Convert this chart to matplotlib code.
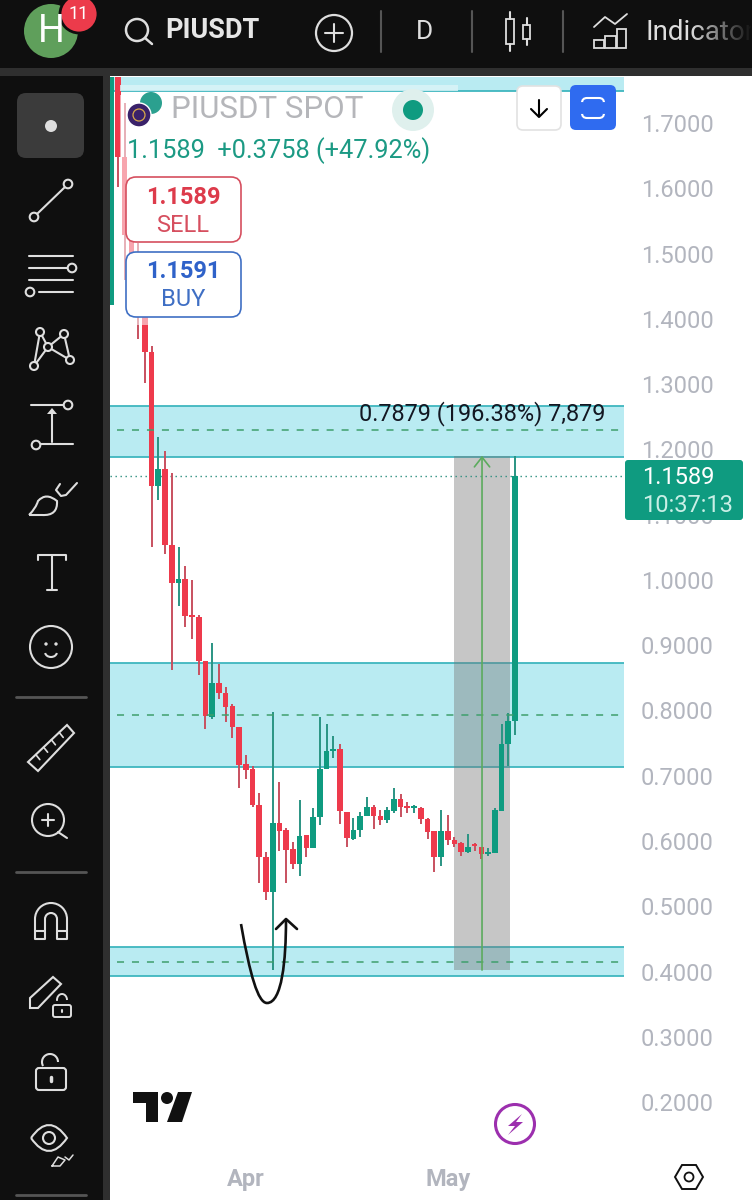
import numpy as np
import matplotlib
matplotlib.use('Agg')
import matplotlib.pyplot as plt
from matplotlib.patches import Arc, Circle, FancyBboxPatch, PathPatch, Polygon, Rectangle
from matplotlib.path import Path

plt.rcParams['font.family'] = ['Roboto', 'DejaVu Sans']

# daily candles, oldest first
opens = [1.421, 1.7705, 1.648, 1.528, 1.437, 1.413, 1.349, 1.144, 1.170, 1.054, 0.995,
         1.001, 0.945, 0.943, 0.876, 0.790, 0.842, 0.827, 0.807, 0.775, 0.718,
         0.710, 0.655, 0.576, 0.522, 0.628, 0.617, 0.588, 0.565, 0.609, 0.589,
         0.637, 0.710, 0.738, 0.741, 0.644, 0.603, 0.617, 0.638, 0.652, 0.638,
         0.632, 0.646, 0.664, 0.654, 0.651, 0.651, 0.634, 0.615, 0.576, 0.615,
         0.602, 0.597, 0.583, 0.594, 0.591, 0.580, 0.582, 0.646, 0.749, 0.784]
closes = [1.7705, 1.648, 1.528, 1.437, 1.413, 1.349, 1.144, 1.170, 1.054, 0.995, 1.001,
          0.945, 0.943, 0.876, 0.792, 0.842, 0.827, 0.805, 0.775, 0.717, 0.709,
          0.655, 0.576, 0.522, 0.628, 0.615, 0.586, 0.565, 0.608, 0.589, 0.637,
          0.710, 0.738, 0.741, 0.646, 0.605, 0.617, 0.638, 0.652, 0.638, 0.632,
          0.647, 0.664, 0.652, 0.651, 0.652, 0.634, 0.614, 0.576, 0.615, 0.602,
          0.595, 0.583, 0.591, 0.592, 0.580, 0.582, 0.647, 0.749, 0.784, 1.1589]
highs = [1.7705, 1.7705, 1.731, 1.528, 1.516, 1.413, 1.358, 1.219, 1.198, 1.164, 1.050,
         1.021, 1.000, 0.946, 0.876, 0.903, 0.871, 0.836, 0.810, 0.775, 0.732,
         0.715, 0.674, 0.583, 0.798, 0.690, 0.620, 0.599, 0.663, 0.609, 0.651,
         0.790, 0.779, 0.761, 0.749, 0.644, 0.635, 0.644, 0.667, 0.655, 0.647,
         0.652, 0.681, 0.672, 0.660, 0.655, 0.652, 0.635, 0.615, 0.647, 0.640,
         0.606, 0.599, 0.611, 0.597, 0.591, 0.589, 0.651, 0.779, 0.796, 1.190]
lows = [1.421, 1.602, 1.459, 1.429, 1.369, 1.302, 1.050, 1.122, 1.040, 0.862, 0.960,
        0.928, 0.910, 0.854, 0.772, 0.787, 0.818, 0.782, 0.758, 0.681, 0.695,
        0.652, 0.536, 0.510, 0.402, 0.585, 0.536, 0.557, 0.546, 0.576, 0.589,
        0.625, 0.710, 0.727, 0.626, 0.591, 0.602, 0.606, 0.638, 0.618, 0.625,
        0.628, 0.643, 0.637, 0.643, 0.643, 0.626, 0.603, 0.553, 0.562, 0.594,
        0.591, 0.577, 0.582, 0.585, 0.572, 0.577, 0.582, 0.646, 0.715, 0.762]

zones = [(1.749, 1.7705), (1.1884, 1.2665), (0.713, 0.873), (0.393, 0.438)]
zone_mids = [1.230, 0.793, 0.415]
measure_low = 0.4022
measure_high = 1.1901
last_price = 1.1589
price_ticks = [0.2, 0.3, 0.4, 0.5, 0.6, 0.7, 0.8, 0.9, 1.0, 1.1, 1.2, 1.3, 1.4, 1.5, 1.6, 1.7]
month_ticks = [20, 50]
month_labels = ['Apr', 'May']

RED = '#ee3a4c'
GREEN = '#0f9b80'
UP_WICK = '#2a9483'
DOWN_WICK = '#c8505f'
BAND = '#b9ebf2'
BAND_EDGE = '#3fb6bf'
DARK = '#0f0f0f'
STRIP = '#2f2f2f'
ICON = '#dedede'
GREY = '#b2b5be'

W, H = 752, 1200
fig = plt.figure(figsize=(W / 100, H / 100), dpi=100, facecolor='white')

# price pane: 65.27 px per 0.1, 6.73 px per day, newest candle at x=515
ax = fig.add_axes([110 / W, 1 - 1160 / H, (624 - 110) / W, (1160 - 76) / H], zorder=1)
idx = np.arange(len(opens))
o, c, hi, lo = map(np.array, (opens, closes, highs, lows))
up = c >= o
ax.set_xlim(60 - (515 - 110) / 6.73, 60 + (624 - 515) / 6.73)
ax.set_ylim(1.7 - (1160 - 123) / 652.7, 1.7 + (123 - 76) / 652.7)

for low, high in zones:
    ax.axhspan(low, high, color=BAND, lw=0, zorder=1)
    ax.axhline(low, color=BAND_EDGE, lw=1.3, zorder=1.5)
    if high < 1.7:
        ax.axhline(high, color=BAND_EDGE, lw=1.3, zorder=1.5)
for mid in zone_mids:
    ax.plot([idx[0] + 0.8, ax.get_xlim()[1]], [mid, mid], color='#3f9f6c', lw=1.1,
            ls=(0, (4.6, 5.2)), zorder=3.5)

ax.add_patch(Rectangle((50.94, measure_low), 8.32, measure_high - measure_low,
                       fc='#777777', alpha=0.42, ec='none', zorder=2))
ax.axhline(last_price, color='#2d8f80', lw=1, ls=(0, (1, 2.6)), zorder=2.5)

ax.vlines(idx[up], lo[up], hi[up], color=UP_WICK, lw=1.4, zorder=3)
ax.vlines(idx[~up], lo[~up], hi[~up], color=DOWN_WICK, lw=1.4, zorder=3)
body = np.maximum(np.abs(c - o), 0.003)
ax.bar(idx[up], body[up], bottom=np.minimum(o, c)[up], width=0.84, color=GREEN, lw=0, zorder=3.2)
ax.bar(idx[~up], body[~up], bottom=np.minimum(o, c)[~up], width=0.84, color=RED, lw=0, zorder=3.2)

ax.annotate('', xy=(55.1, measure_high), xytext=(55.1, measure_low), zorder=4,
            arrowprops=dict(arrowstyle='->,head_length=0.7,head_width=0.55', color='#5cab5e',
                            lw=1.2, shrinkA=0, shrinkB=0))
ax.text(55.1, 1.2545, '0.7879 (196.38%) 7,879', ha='center', va='center', fontsize=16.9,
        color='#131722', zorder=5)

ax.set_yticks(price_ticks)
ax.set_yticklabels(['%.4f' % p for p in price_ticks])
ax.set_xticks(month_ticks)
ax.set_xticklabels(month_labels, fontweight='bold')
ax.tick_params(axis='y', left=False, labelleft=False, right=False, labelright=True, length=0,
               pad=12, labelsize=17, labelcolor=GREY)
ax.tick_params(axis='x', length=0, pad=6, labelsize=17, labelcolor=GREY)
for side in ax.spines.values():
    side.set_visible(False)

# app chrome on a pixel overlay
ui = fig.add_axes([0, 0, 1, 1], zorder=5)
ui.set_xlim(0, W)
ui.set_ylim(H, 0)
ui.axis('off')


def ln(xs, ys, col=ICON, lw=1.5, **kw):
    ui.plot(xs, ys, color=col, lw=lw, solid_capstyle='round', solid_joinstyle='round', **kw)


def ring(x, y, r, col=ICON, lw=1.5, fill='none'):
    ui.add_patch(Circle((x, y), r, fc=fill, ec=col, lw=lw, zorder=2.5))


def box(x0, y0, x1, y1, fc='none', ec='none', lw=1.2, rad=4):
    ui.add_patch(FancyBboxPatch((x0 + rad, y0 + rad), x1 - x0 - 2 * rad, y1 - y0 - 2 * rad,
                                boxstyle='round,pad=%s,rounding_size=%s' % (rad, rad),
                                fc=fc, ec=ec, lw=lw))


def curve(points, ec=ICON, lw=1.5, fc='none'):
    codes = [Path.MOVETO] + [Path.CURVE3] * (len(points) - 1)
    ui.add_patch(PathPatch(Path(points, codes), fc=fc, ec=ec, lw=lw))


ui.add_patch(Rectangle((0, 0), W, 68, fc=DARK, ec='none'))
ui.add_patch(Rectangle((0, 68), W, 8, fc=STRIP, ec='none'))
ui.add_patch(Rectangle((0, 76), 103, H - 76, fc=DARK, ec='none'))
ui.add_patch(Rectangle((103, 76), 7, H - 76, fc=STRIP, ec='none'))

# top bar
ring(51, 31, 27, col='none', lw=0, fill='#5f9f5b')
ui.text(51, 32, 'H', color='white', fontsize=27, ha='center', va='center', zorder=3)
ring(79, 14, 19, col=DARK, lw=2, fill='#ec3b4b')
ui.text(79, 14, '11', color='white', fontsize=13, ha='center', va='center', zorder=3)
ring(137, 30, 11, lw=1.8)
ln([145, 152], [38, 44], lw=1.8)
ui.text(165, 31, 'PIUSDT', color='#e6e6e6', fontsize=19.5, fontweight='bold', va='center')
ring(334, 33, 18, lw=1.6)
ln([325, 343], [33, 33])
ln([334, 334], [24, 42])
for sx in (381, 472, 563):
    ln([sx, sx], [11, 52], col='#555555', lw=1.5)
ui.text(425, 32, 'D', color=ICON, fontsize=19, ha='center', va='center')
ui.add_patch(Rectangle((506, 19), 8, 25, fc='none', ec=ICON, lw=1.3))
ln([510, 510], [12, 19])
ln([510, 510], [44, 51])
ui.add_patch(Rectangle((523, 25), 7, 14, fc='none', ec=ICON, lw=1.3))
ln([527, 527], [18, 25])
ln([527, 527], [39, 45])
for bx0, bx1, by in ((594, 604, 40), (605, 616, 36), (617, 626, 29)):
    ui.add_patch(Rectangle((bx0, by), bx1 - bx0, 48 - by, fc='none', ec=ICON, lw=1.3))
ln([594, 605, 615, 627], [27, 17, 24, 14], lw=1.3)
ui.text(645, 32, 'Indicators', color=ICON, fontsize=20, va='center')
fade = np.linspace(0, 1, 62).reshape(1, -1, 1)
fade = np.dstack([np.full((1, 62, 3), 15 / 255), fade])
ui.imshow(fade, extent=(690, 752, 60, 5), aspect='auto', zorder=4)
ui.set_xlim(0, W)
ui.set_ylim(H, 0)

# left toolbar
box(17, 93, 84, 158, fc='#3b3b3b', rad=9)
ring(51, 126, 6, col='none', lw=0, fill=ICON)
ln([37, 65], [214, 187])
ring(68, 184, 4.3, fill=DARK)
ring(34, 217, 4.3, fill=DARK)
ln([29, 73], [256, 256])
ln([29, 67], [268, 268])
ln([29, 73], [280, 280])
ln([39, 73], [292, 292])
ring(72, 268, 4.3, fill=DARK)
ring(30, 292, 4.3, fill=DARK)
ln([34, 40, 48, 64, 70, 48, 34], [366, 332, 347, 334, 360, 347, 366])
for px, py in ((40, 332), (64, 334), (48, 347), (34, 366), (70, 360)):
    ring(px, py, 4, fill=DARK)
ln([31, 63], [405, 405])
ring(68, 405, 4.3, fill=DARK)
ln([41, 73], [444, 444])
ring(36, 445, 4.3, fill=DARK)
ln([52, 52], [410, 442])
ui.add_patch(Polygon([(47, 414), (57, 414), (52, 408)], fc=ICON, ec='none'))
curve([(29, 515), (36, 508), (38, 501), (46, 492), (57, 501), (58, 516), (42, 515), (35, 515), (29, 515)])
ln([60, 56, 61, 66, 77], [484, 490, 496, 495, 483])
ln([38, 38, 66, 66], [560, 555, 555, 560])
ln([52, 52], [555, 590])
ln([47, 57], [590, 590])
ring(51, 647, 21)
ring(46, 644, 1.7, col='none', lw=0, fill=ICON)
ring(56, 644, 1.7, col='none', lw=0, fill=ICON)
ui.add_patch(Arc((51, 652), 12, 10, theta1=10, theta2=170, ec=ICON, lw=1.5))
for dy in (697, 872, 1195):
    ln([16, 86], [dy, dy], col='#555555', lw=2)
ui.add_patch(Polygon([(67, 725), (74, 733), (38, 771), (28, 762)], fc='none', ec=ICON, lw=1.5))
for t in (0.2, 0.4, 0.6, 0.8):
    tx, ty = 28 + 39 * t, 762 - 37 * t
    ln([tx, tx + 4], [ty, ty + 5], lw=1.2)
ring(48, 820, 16)
ln([42, 54], [820, 820])
ln([48, 48], [814, 826])
ln([58, 67], [832, 838])
ui.add_patch(Arc((51, 919), 32, 32, theta1=180, theta2=360, ec=ICON, lw=1.5))
ui.add_patch(Arc((51, 919), 12, 12, theta1=180, theta2=360, ec=ICON, lw=1.5))
ln([35, 35, 45, 45], [919, 939, 939, 919])
ln([67, 67, 57, 57], [919, 939, 939, 919])
ln([35, 45], [931, 931])
ln([57, 67], [931, 931])
ui.add_patch(Polygon([(30, 1008), (30, 998), (53, 977), (61, 984), (38, 1008)], fc='none', ec=ICON, lw=1.5))
box(53, 1005, 71, 1017, ec=ICON, rad=2, lw=1.4)
ui.add_patch(Arc((62, 1000), 10, 12, theta1=170, theta2=360, ec=ICON, lw=1.4))
ln([62, 62], [1010, 1012], lw=1.5)
box(36, 1068, 66, 1090, ec=ICON, rad=3, lw=1.5)
ui.add_patch(Arc((50, 1062), 16, 16, theta1=150, theta2=360, ec=ICON, lw=1.5))
ln([51, 51], [1077, 1081], lw=2.5)
curve([(31, 1138), (49, 1112), (67, 1138), (49, 1164), (31, 1138)])
ring(49, 1138, 6)
ln([52, 58, 65, 60, 52], [1166, 1157, 1160, 1166, 1166], lw=1.1)
ln([65, 69, 73], [1157, 1160, 1155], lw=1.1)

# fades the oldest candles behind the legend
ui.add_patch(Rectangle((120, 95), 30, 230, fc='white', ec='none', alpha=0.55))
ui.add_patch(Rectangle((120, 85), 338, 6, fc='#ddf5f8', ec='none', alpha=0.8))

# legend
ring(151, 103, 11, col='none', lw=0, fill='#2ba08f')
ring(139, 115, 12, col='white', lw=1, fill='#3a2169')
ring(139, 115, 6, col='#d8a94a', lw=0.9)
ui.text(171, 110, 'PIUSDT SPOT', color='#b5b6ba', fontsize=22.5, va='center')
ring(413, 110, 21, col='none', lw=0, fill='#dff0ed')
ring(413, 110, 10, col='none', lw=0, fill=GREEN)
ui.text(127, 151, '1.1589  +0.3758 (+47.92%)', color='#1c9a84', fontsize=18.3, va='center')
box(126, 177, 241, 242, fc='white', ec='#d64f5f', rad=10)
ui.text(183, 197, '1.1589', color='#dd3b4b', fontsize=17, fontweight='bold', ha='center', va='center')
ui.text(183, 225, 'SELL', color='#d64f5f', fontsize=17, ha='center', va='center')
box(126, 252, 241, 317, fc='white', ec='#3f6fc4', rad=10)
ui.text(183, 272, '1.1591', color='#2f62c9', fontsize=17, fontweight='bold', ha='center', va='center')
ui.text(183, 300, 'BUY', color='#3f6fc4', fontsize=17, ha='center', va='center')

# chart buttons
box(517, 86, 561, 130, fc='white', ec='#e2e2e2', rad=6)
ln([539, 539], [100, 116], col='black', lw=1.5)
ln([531, 539, 547], [109, 117, 109], col='black', lw=1.5)
box(570, 85, 616, 130, fc='#2f6bf0', rad=6)
box(582, 98, 604, 118, ec='white', rad=5, lw=1.5)
ln([582, 582], [104, 112], col='#2f6bf0', lw=3)
ln([604, 604], [104, 112], col='#2f6bf0', lw=3)

# last price tag
box(625, 460, 743, 520, fc=GREEN, rad=3)
ui.text(642, 477, '1.1589', color='white', fontsize=17, va='center')
ui.text(642, 505, '10:37:13', color='#c9efe6', fontsize=17, va='center')

# hand drawn swoosh
swoosh = Path([(241, 924), (250, 975), (258, 1003), (267, 1003), (282, 1003), (286, 960), (286, 920)],
              [Path.MOVETO, Path.CURVE4, Path.CURVE4, Path.CURVE4, Path.CURVE4, Path.CURVE4, Path.CURVE4])
ui.add_patch(PathPatch(swoosh, fc='none', ec='#111111', lw=1.9))
ln([276, 286, 297], [929, 919, 929], col='#111111', lw=1.9)

# watermark and corner icons
ui.add_patch(Polygon([(133, 1092), (158, 1092), (158, 1122), (146, 1122), (146, 1103), (133, 1103)],
                     fc='#111111', ec='none'))
ring(167, 1098, 6, col='none', lw=0, fill='#111111')
ui.add_patch(Polygon([(178, 1092), (192, 1092), (182, 1122), (167, 1122)], fc='#111111', ec='none'))
ring(515, 1124, 19.5, col='#9c2fae', lw=2.2, fill='white')
ui.add_patch(Polygon([(522, 1114), (508, 1126), (515, 1126), (508, 1135), (523, 1122), (516, 1122)],
                     fc='#9c2fae', ec='none', zorder=3))
ui.add_patch(Polygon([(675, 1177), (682, 1165), (696, 1165), (703, 1177), (696, 1189), (682, 1189)],
                     fc='none', ec='#111111', lw=1.4))
ring(689, 1177, 4.5, col='#111111', lw=1.3)

fig.savefig('out.png', dpi=100)
